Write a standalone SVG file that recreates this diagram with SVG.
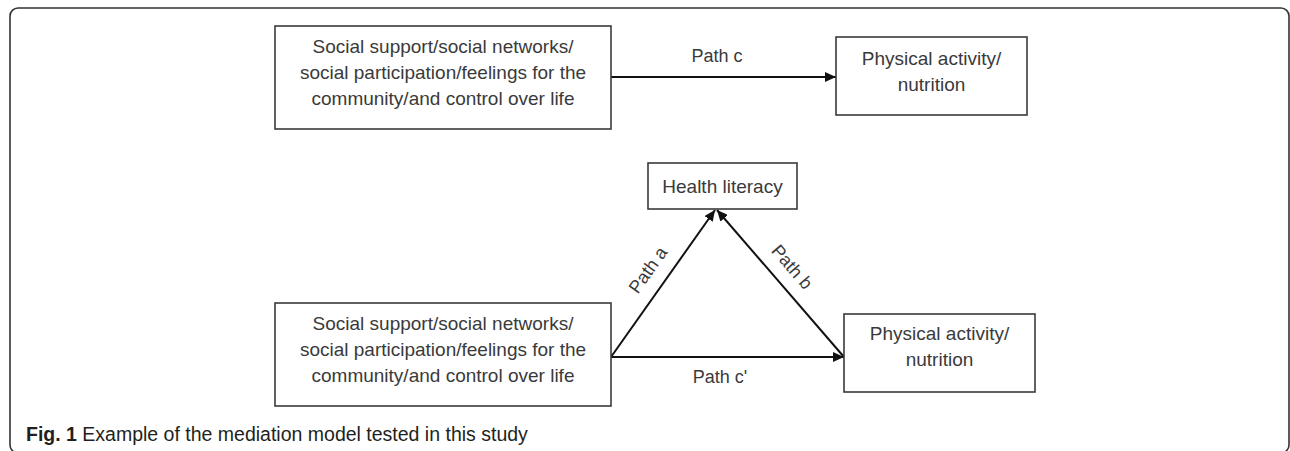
<svg xmlns="http://www.w3.org/2000/svg" width="1290" height="451" viewBox="0 0 1290 451">
<defs>
<style>
.frame{fill:none;stroke:#333;stroke-width:1.6}
.box{fill:#fff;stroke:#3a3a3a;stroke-width:1.6}
.t{font-family:"Liberation Sans",Arial,sans-serif;font-size:19px;fill:#3a3a3a;text-anchor:middle}
.lbl{font-family:"Liberation Sans",Arial,sans-serif;font-size:18px;fill:#3a3a3a;text-anchor:middle}
.edge{stroke:#111;stroke-width:2;fill:none;marker-end:url(#ah)}
.cap{font-family:"Liberation Sans",Arial,sans-serif;font-size:19.5px;fill:#231f20}
</style>
<marker id="ah" viewBox="0 0 11 10" refX="11" refY="5" markerWidth="11" markerHeight="10" markerUnits="userSpaceOnUse" orient="auto">
<path d="M0,0 L11,5 L0,10 Z" fill="#111"/>
</marker>
</defs>
<rect width="1290" height="451" fill="#fff"/>
<rect class="frame" x="10" y="8" width="1279" height="445" rx="8"/>

<g id="connectors">
<line class="edge" x1="611" y1="77" x2="836" y2="77"/>
<line class="edge" x1="611" y1="357" x2="844" y2="357"/>
<line class="edge" x1="611" y1="357" x2="715" y2="210"/>
<line class="edge" x1="844" y1="357" x2="717" y2="210"/>
<text class="lbl" x="717" y="62">Path c</text>
<text class="lbl" x="720" y="383">Path c'</text>
<text class="lbl" transform="translate(648,270) rotate(-54.3)" x="0" y="6">Path a</text>
<text class="lbl" transform="translate(792,267) rotate(49.2)" x="0" y="6">Path b</text>
</g>

<g id="top-predictor">
<rect class="box" x="275" y="26" width="336" height="103"/>
<text class="t" x="443" y="53">Social support/social networks/</text>
<text class="t" x="443" y="79">social participation/feelings for the</text>
<text class="t" x="443" y="105">community/and control over life</text>
</g>

<g id="top-outcome">
<rect class="box" x="836" y="37" width="191" height="78"/>
<text class="t" x="931.5" y="65">Physical activity/</text>
<text class="t" x="931.5" y="91">nutrition</text>
</g>

<g id="mediator">
<rect class="box" x="648" y="163" width="149" height="46"/>
<text class="t" x="722.5" y="192.5">Health literacy</text>
</g>

<g id="bottom-predictor">
<rect class="box" x="275" y="303" width="336" height="103"/>
<text class="t" x="443" y="330">Social support/social networks/</text>
<text class="t" x="443" y="356">social participation/feelings for the</text>
<text class="t" x="443" y="382">community/and control over life</text>
</g>

<g id="bottom-outcome">
<rect class="box" x="844" y="314" width="191" height="78"/>
<text class="t" x="939.5" y="340">Physical activity/</text>
<text class="t" x="939.5" y="366">nutrition</text>
</g>

<g id="caption">
<text class="cap" x="26" y="441"><tspan font-weight="bold">Fig. 1</tspan> Example of the mediation model tested in this study</text>
</g>
</svg>
